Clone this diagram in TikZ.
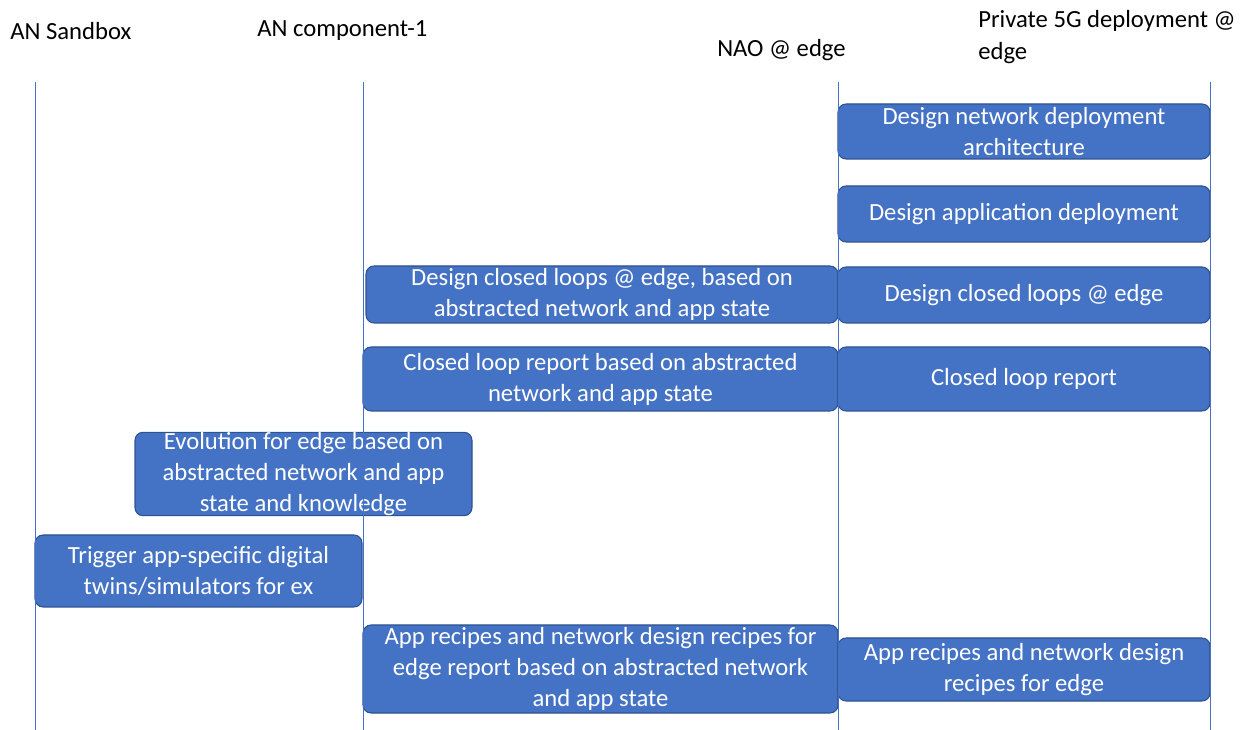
\documentclass[tikz,border=0pt]{standalone}
\usepackage{fontspec}
\setmainfont{Carlito}
\definecolor{boxfill}{HTML}{4472C4}
\definecolor{boxedge}{HTML}{2F528F}
\definecolor{lifeline}{HTML}{4472C4}
\begin{document}
\begin{tikzpicture}[x=0.75pt,y=-0.75pt,
  every node/.style={font=\fontsize{18.5pt}{23.25pt}\selectfont},
  header/.style={anchor=west,inner sep=0pt,align=left,text=black},
  msgbox/.style={draw=boxedge,line width=0.8pt,fill=boxfill,rounded corners=6pt,
    text=white,align=center,inner sep=0pt},
  lane/.style={draw=lifeline,line width=0.75pt}]
\useasboundingbox (0,0) rectangle (1250,730);

% participant headers
\node[header] (hSand) at (10,31) {AN Sandbox};
\node[header] (hComp) at (257,31) {AN component-1};
\node[header] (hNao) at (717,50) {NAO @ edge};
\node[header,font=\fontsize{18.5pt}{24pt}\selectfont] (hP5g) at (978,37) {Private 5G deployment @\\edge};

% activity boxes
\node[msgbox,minimum width=279pt,minimum height=41.25pt] (b1) at (1024,131.5)
  {Design network deployment\\architecture};
\node[msgbox,minimum width=279pt,minimum height=42pt] (b2) at (1024,214)
  {Design application deployment};
\node[msgbox,minimum width=354pt,minimum height=42.75pt] (b3) at (602,294.5)
  {Design closed loops @ edge, based on\\abstracted network and app state};
\node[msgbox,minimum width=279pt,minimum height=42pt] (b4) at (1024,295)
  {Design closed loops @ edge};
\node[msgbox,minimum width=356.25pt,minimum height=48pt] (b5) at (600.5,379)
  {Closed loop report based on abstracted\\network and app state};
\node[msgbox,minimum width=279pt,minimum height=48pt] (b6) at (1024,379)
  {Closed loop report};
\node[msgbox,minimum width=252.75pt,minimum height=61.5pt] (b7) at (303.5,474)
  {Evolution for edge based on\\abstracted network and app\\state and knowledge};
\node[msgbox,minimum width=245.25pt,minimum height=54pt] (b8) at (198.5,571)
  {Trigger app-specific digital\\twins/simulators for ex};
\node[msgbox,minimum width=356.25pt,minimum height=66pt] (b9) at (600.5,669)
  {App recipes and network design recipes for\\edge report based on abstracted network\\and app state};
\node[msgbox,minimum width=279pt,minimum height=47.25pt] (b10) at (1024,669.5)
  {App recipes and network design\\recipes for edge};

% lifelines
\coordinate (l1t) at (35,82);   \coordinate (l1b) at (35,730);
\coordinate (l2t) at (363,82);  \coordinate (l2b) at (363,730);
\coordinate (l3t) at (838,82);  \coordinate (l3b) at (838,730);
\coordinate (l4t) at (1210,82); \coordinate (l4b) at (1210,730);
\draw[lane] (l1t) -- (l1b);
\draw[lane] (l2t) -- (l2b);
\draw[lane] (l3t) -- (l3b);
\draw[lane] (l4t) -- (l4b);
\end{tikzpicture}
\end{document}
